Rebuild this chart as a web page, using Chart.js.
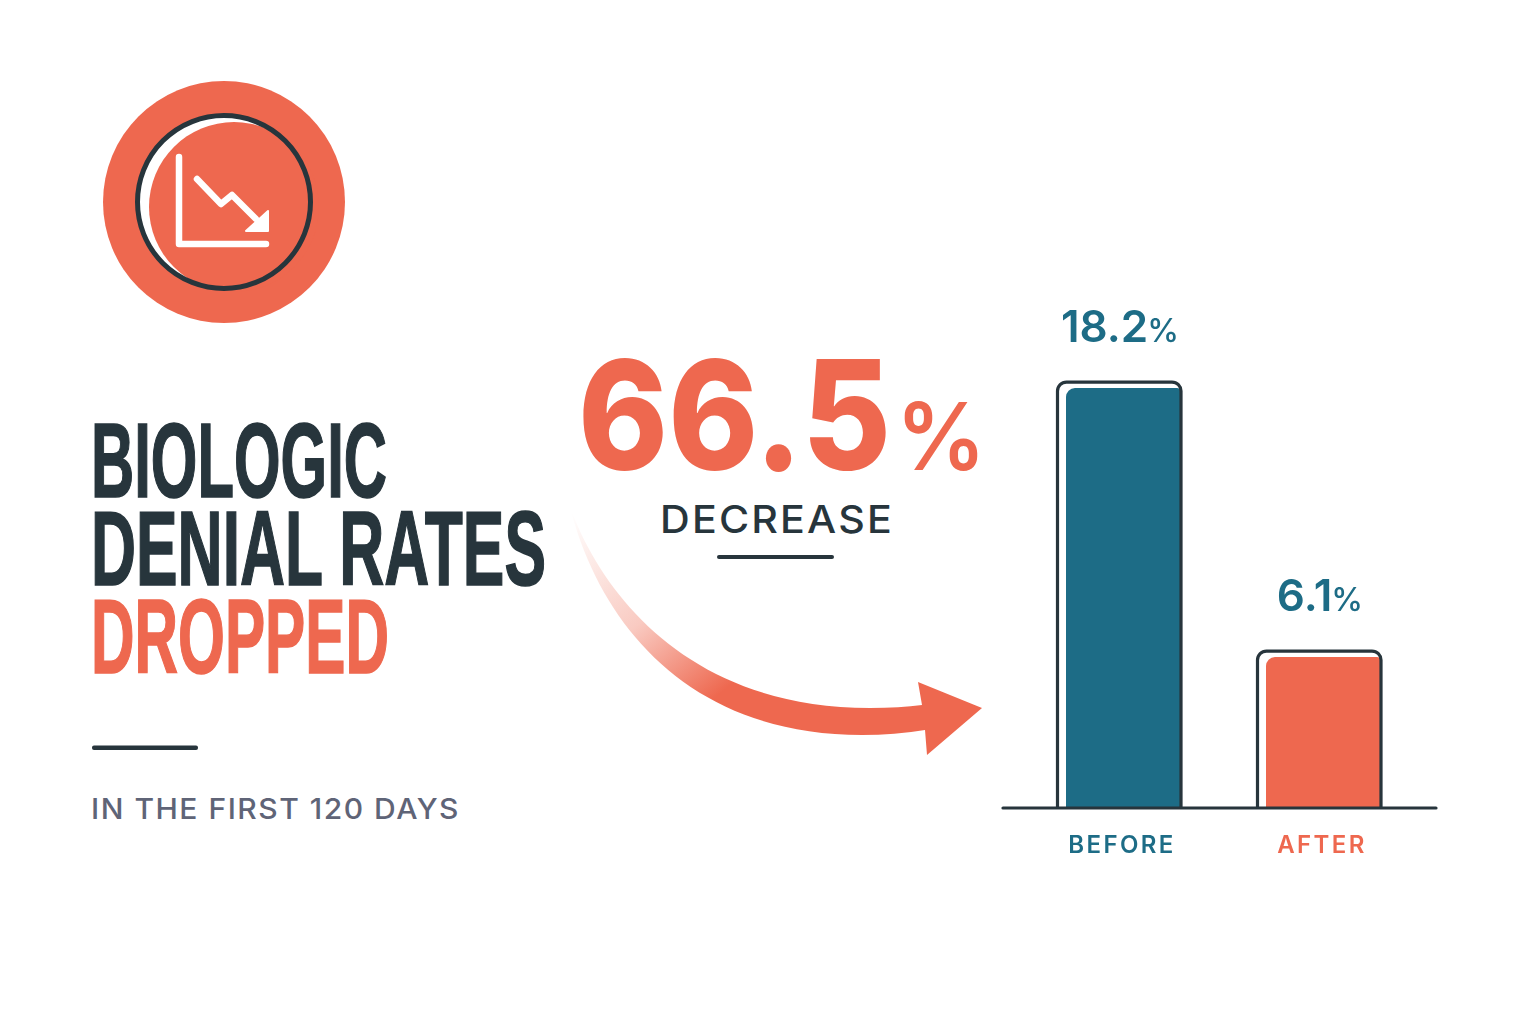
<!DOCTYPE html>
<html>
<head>
<meta charset="utf-8">
<title>Biologic denial rates dropped</title>
<script src="https://cdn.jsdelivr.net/npm/chart.js@4"></script>
<style>
  html, body { margin: 0; padding: 0; background: #fff; }
  #page { position: relative; width: 1536px; height: 1024px; overflow: hidden; }
  #page svg, #page canvas { position: absolute; left: 0; top: 0; }
</style>
</head>
<body>
<div id="page">
  <svg width="1536" height="1024" viewBox="0 0 1536 1024">
    <defs>
      <linearGradient id="fade" gradientUnits="userSpaceOnUse" x1="575" y1="510" x2="722" y2="692">
        <stop offset="0" stop-color="#ee684f" stop-opacity="0"/>
        <stop offset="0.55" stop-color="#ee684f" stop-opacity="0.35"/>
        <stop offset="1" stop-color="#ee684f"/>
      </linearGradient>
    </defs>

    <!-- icono -->
    <circle cx="224" cy="202" r="121" fill="#ee684f"/>
    <circle cx="224" cy="202" r="86" fill="#fff"/>
    <circle cx="234" cy="207" r="85" fill="#ee684f"/>
    <circle cx="224" cy="202" r="86.5" fill="none" stroke="#27353c" stroke-width="5"/>
    <path d="M179 157 V244 H266" fill="none" stroke="#fff" stroke-width="6.5" stroke-linecap="round" stroke-linejoin="round"/>
    <path d="M197 179 L221 204 L232 195 L256 219" fill="none" stroke="#fff" stroke-width="6.5" stroke-linecap="round" stroke-linejoin="round"/>
    <path d="M268 211 V231 H246 Z" fill="#fff" stroke="#fff" stroke-width="2" stroke-linejoin="round"/>

    <!-- titulo -->
    <g font-family="'Liberation Sans Narrow','Liberation Sans',sans-serif" font-weight="700" font-size="106" stroke-width="1.6">
      <text x="91" y="497" textLength="296" lengthAdjust="spacingAndGlyphs" fill="#27353c" stroke="#27353c">BIOLOGIC</text>
      <text x="91" y="585" textLength="455" lengthAdjust="spacingAndGlyphs" fill="#27353c" stroke="#27353c">DENIAL RATES</text>
      <text x="91" y="673" textLength="298" lengthAdjust="spacingAndGlyphs" fill="#ee684f" stroke="#ee684f">DROPPED</text>
    </g>
    <rect x="92" y="745.5" width="106" height="4.5" rx="2" fill="#27353c"/>
    <text x="91" y="819" font-family="Inter,sans-serif" font-weight="500" font-size="28" letter-spacing="1.4" textLength="369" lengthAdjust="spacingAndGlyphs" fill="#5f6477">IN THE FIRST 120 DAYS</text>

    <!-- 66.5% -->
    <text x="578" y="470" font-family="Inter,sans-serif" font-weight="800" font-size="152" textLength="313" lengthAdjust="spacingAndGlyphs" fill="#ee684f">66.5</text>
    <text x="896" y="470" font-family="Inter,sans-serif" font-weight="600" font-size="94" textLength="90" lengthAdjust="spacingAndGlyphs" fill="#ee684f">%</text>
    <text x="660" y="533" font-family="Inter,sans-serif" font-weight="500" font-size="38" letter-spacing="2" textLength="234" lengthAdjust="spacingAndGlyphs" fill="#27353c">DECREASE</text>
    <rect x="717" y="555" width="117" height="4" rx="2" fill="#27353c"/>

    <!-- flecha -->
    <path d="M570 507 C 602 595, 690 708, 870 708 Q 900 708 922 705 L 918 682 L 982 708 L 927 755 L 925 730 Q 895 735 862 735 C 690 735, 600 625, 570 507 Z" fill="url(#fade)"/>
  </svg>
  <canvas id="grafico" width="1536" height="1024"></canvas>
</div>

<script>
const categorias = ["BEFORE", "AFTER"];
const valores = [18.2, 6.1];
const cores = ["#1d6c86", "#ee684f"];

const escuro = "#27353c";
const eixoMin = -0.69;

// Contorno deslocado atras de cada barra, linha de base e rotulos de valor
const extrasPlugin = {
  id: "extras",
  beforeDraw(chart) {
    chart.ctx.letterSpacing = "2.4px";
  },
  beforeDatasetsDraw(chart) {
    chart.ctx.letterSpacing = "0px";
  },
  afterDatasetsDraw(chart) {
    const { ctx, scales } = chart;
    const base = scales.y.getPixelForValue(scales.y.min);
    ctx.save();
    ctx.strokeStyle = escuro;
    ctx.lineWidth = 3.2;
    ctx.lineJoin = "round";
    chart.getDatasetMeta(0).data.forEach((bar, i) => {
      const esq = bar.x - bar.width / 2 - 8.5;
      const dir = bar.x + bar.width / 2 + 1;
      const topo = bar.y - 6;
      ctx.beginPath();
      ctx.moveTo(esq, base);
      ctx.lineTo(esq, topo + 9);
      ctx.arcTo(esq, topo, esq + 9, topo, 9);
      ctx.lineTo(dir - 9, topo);
      ctx.arcTo(dir, topo, dir, topo + 9, 9);
      ctx.lineTo(dir, base);
      ctx.stroke();

      // rotulo: numero grande + % pequeno
      const numero = String(valores[i]);
      ctx.fillStyle = "#1d6c86";
      ctx.textAlign = "left";
      ctx.textBaseline = "alphabetic";
      ctx.font = "600 44px Inter";
      const l1 = ctx.measureText(numero).width;
      ctx.font = "500 32px Inter";
      const l2 = ctx.measureText("%").width;
      const x0 = bar.x - 2.5 - (l1 + l2) / 2;
      ctx.font = "600 44px Inter";
      ctx.fillText(numero, x0, bar.y - 46);
      ctx.font = "500 32px Inter";
      ctx.fillText("%", x0 + l1 - 1, bar.y - 46);
    });
    ctx.lineCap = "round";
    ctx.beginPath();
    ctx.moveTo(1003, base);
    ctx.lineTo(1436, base);
    ctx.stroke();
    ctx.restore();
  },
};

new Chart(document.getElementById("grafico").getContext("2d"), {
  type: "bar",
  plugins: [extrasPlugin],
  data: {
    labels: categorias,
    datasets: [
      {
        data: valores,
        base: eixoMin,
        backgroundColor: cores,
        borderRadius: { topLeft: 9, topRight: 3, bottomLeft: 0, bottomRight: 0 },
        borderSkipped: false,
        barPercentage: 0.57,
        categoryPercentage: 1,
      },
    ],
  },
  options: {
    responsive: false,
    animation: false,
    layout: { padding: { left: 1023, right: 113, top: 288, bottom: 0 } },
    plugins: { legend: { display: false }, tooltip: { enabled: false } },
    scales: {
      x: {
        grid: { display: false },
        border: { display: false },
        afterFit(scale) {
          scale.height = 216;
        },
        ticks: {
          color: (c) => cores[c.index],
          font: { family: "Inter", size: 24, weight: "600" },
          padding: 15,
          labelOffset: -1,
          maxRotation: 0,
        },
      },
      y: { display: false, min: eixoMin, max: 22.7 },
    },
  },
});
</script>
</body>
</html>
